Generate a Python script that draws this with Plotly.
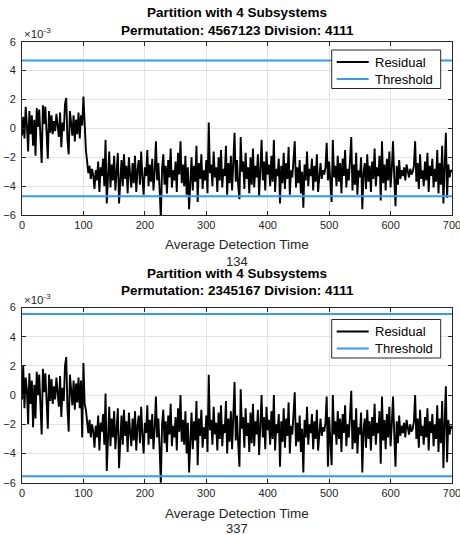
import plotly.graph_objects as go

# x positions (Average Detection Time samples)
time_start, time_stop, time_step = 0, 700, 2
x_vals = list(range(time_start, time_stop + 1, time_step))

# Residual, panel 1 (units of 1e-3)
residual_1 = [
    -0.5, 0.8, -0.7, 1.5, 0.2, -1.6, 1.2, -0.4, 0.9, -1.2,
    0.6, -1.9, 1.4, 0.1, 1.3, -0.6, -2.4, 1.6, 0.3, 1.5,
    -0.8, -2.1, 1.2, -0.3, 0.9, -0.4, 0.5, -0.2, 1.0, 0.2,
    -0.6, 1.1, -1.3, 0.4, -0.2, 1.7, 2.1, -0.8, -1.8, 1.2,
    0.3, -0.5, 0.9, -0.9, 0.6, -0.4, 1.1, -0.7, 0.9, 0.2,
    2.2, -0.4, -1.5, -2.3, -3.1, -2.6, -3.5, -2.8, -3.3, -4.2,
    -2.9, -3.6, -2.3, -4.4, -2.7, -3.3, -2.1, -4.0, -0.8, -5.2,
    -3.0, -1.6, -4.1, -2.5, -3.6, -1.9, -4.3, -2.8, -1.7, -5.2,
    -3.1, -2.2, -4.0, -1.8, -3.5, -2.6, -4.5, -2.0, -3.2, -4.1,
    -2.4, -3.8, -1.9, -4.4, -2.9, -2.2, -3.9, -1.6, -3.4, -4.6,
    -2.7, -3.3, -1.5, -4.0, -2.5, -3.7, -2.1, -4.3, -3.0, -0.9,
    -3.6, -2.4, -4.2, -6.2, -2.8, -1.8, -3.9, -2.6, -4.5, -2.2,
    -3.4, -1.4, -4.1, -2.9, -3.6, -2.3, -4.4, -1.7, -3.2, -0.9,
    -3.8, -2.5, -4.0, -1.9, -4.6, -2.7, -5.6, -3.3, -2.0, -4.3,
    -2.6, -3.7, -1.2, -5.1, -2.4, -3.5, -1.8, -4.2, -2.9, -3.6,
    -2.2, -4.5, 0.4, -3.1, -2.5, -4.0, -1.6, -3.4, -2.7, -4.4,
    -2.0, -3.6, -1.5, -4.1, -2.8, -3.3, -1.2, -4.6, -2.4, -3.8,
    -1.9, -4.3, -2.6, -0.3, -3.7, -2.2, -4.0, -4.9, -0.6, -3.0,
    -2.3, -4.2, -1.7, -3.5, -2.7, -4.5, -2.0, -3.9, -1.4, -4.1,
    -2.6, -3.4, -1.8, -4.7, -2.9, -0.8, -3.6, -2.3, -4.3, -1.6,
    -3.2, -2.5, -4.0, -1.9, -3.7, -0.8, -4.4, -2.8, -3.3, -2.1,
    -5.2, -2.6, -3.8, -1.7, -4.2, -2.4, -3.5, -1.3, -4.6, -2.9,
    -3.4, -1.9, -0.9, -4.1, -2.7, -3.8, -2.2, -4.5, -3.0, -5.5,
    -2.5, -3.6, -1.6, -4.0, -2.8, -3.3, -2.1, -4.3, -2.6, -3.7,
    -1.8, -4.4, -3.0, -2.4, -3.5, -2.9, -3.2, -2.7, -1.0, -3.6,
    -2.3, -4.2, -5.1, -0.8, -3.4, -2.6, -4.0, -1.9, -3.7, -2.4,
    -4.5, -2.1, -3.3, -1.5, -4.1, -2.8, -3.6, -2.2, -0.6, -4.3,
    -2.5, -3.9, -1.7, -4.6, -2.9, -3.4, -2.0, -5.6, -3.1, -2.4,
    -4.2, -1.8, -3.7, -2.6, -4.4, -2.3, -3.5, -1.4, -4.0, -2.7,
    -3.3, -1.9, -5.0, -0.9, -3.8, -2.5, -4.3, -2.1, -3.6, -1.6,
    -4.1, -2.8, -0.9, -3.4, -5.4, -2.6, -3.9, -2.2, -3.5, -2.9,
    -3.3, -2.7, -3.6, -2.5, -3.1, -3.4, -2.8, -3.2, -3.0, -2.6,
    -0.9, -3.7, -2.4, -4.2, -1.8, -3.5, -2.9, -4.0, -2.3, -3.6,
    -1.7, -4.4, -2.6, -3.3, -2.1, -4.1, -2.8, -3.7, -1.5, -4.5,
    -2.4, -3.9, -1.2, -5.2, -2.7, -0.3, -4.8, -2.5, -3.4, -2.9,
    -3.0,
]

# Residual, panel 2 (units of 1e-3)
residual_2 = [
    -0.3, 2.0, -0.9, 1.2, 0.4, -2.0, 1.5, -0.6, 1.0, -2.2,
    0.7, -1.6, 1.6, 0.0, 1.4, -0.8, -2.7, 1.8, 0.2, 1.5,
    -1.0, -2.3, 1.4, -0.4, 1.1, -0.6, 0.6, -0.3, 1.2, 0.1,
    -0.8, 1.3, -1.5, 0.5, -0.4, 2.0, 2.6, -0.9, -2.5, 1.4,
    0.4, -0.7, 1.0, -1.0, 0.8, -0.5, 1.2, -0.9, 1.0, -2.9,
    2.2, -0.6, -1.0, -1.9, -2.6, -1.7, -2.9, -2.0, -2.5, -3.6,
    -2.1, -2.9, -1.4, -3.8, -1.9, -2.5, -1.3, -3.4, 0.1, -5.2,
    -2.2, -0.8, -3.5, -1.6, -2.9, -1.1, -3.7, -2.0, -0.9, -5.0,
    -2.4, -1.4, -3.4, -1.0, -2.8, -1.8, -3.9, -1.2, -2.5, -3.5,
    -1.6, -3.1, -1.1, -3.8, -2.1, -1.4, -3.3, -0.8, -2.7, -4.0,
    -1.9, -2.6, -0.7, -3.4, -1.7, -3.0, -1.3, -3.7, -2.3, -0.1,
    -2.9, -1.6, -3.6, -6.1, -2.0, -1.0, -3.3, -1.8, -3.9, -1.4,
    -2.7, -0.6, -3.5, -2.1, -2.9, -1.5, -3.8, -0.9, -2.5, 0.0,
    -3.2, -1.7, -3.4, -1.1, -4.0, -1.9, -5.3, -2.6, -1.2, -3.7,
    -1.8, -3.1, -0.4, -4.8, -1.6, -2.8, -1.0, -3.6, -2.2, -3.0,
    -1.4, -3.9, 1.4, -2.4, -1.7, -3.4, -0.8, -2.7, -1.9, -3.8,
    -1.2, -3.0, -0.7, -3.5, -2.0, -2.6, -0.4, -4.0, -1.6, -3.2,
    -1.1, -3.7, -1.8, 0.9, -3.1, -1.4, -3.4, -4.9, 0.4, -2.3,
    -1.5, -3.6, -0.9, -2.8, -1.9, -3.9, -1.2, -3.3, -0.6, -3.5,
    -1.8, -2.7, -1.0, -4.1, -2.1, 0.0, -2.9, -1.5, -3.7, -0.8,
    -2.4, -1.7, -3.4, -1.1, -3.0, 0.0, -3.8, -2.0, -2.6, -1.3,
    -4.9, -1.8, -3.2, -0.9, -3.6, -1.6, -2.8, -0.5, -4.0, -2.1,
    -2.7, -1.1, 0.2, -3.5, -1.9, -3.2, -1.4, -3.9, -2.3, -5.3,
    -1.7, -2.9, -0.8, -3.4, -2.0, -2.6, -1.3, -3.7, -1.8, -3.0,
    -1.0, -3.8, -2.3, -1.6, -2.8, -2.2, -2.5, -1.9, -0.1, -4.9,
    -1.5, -3.6, -4.8, 0.0, -2.7, -1.8, -3.4, -1.1, -3.0, -1.6,
    -3.9, -1.3, -2.6, -0.7, -3.5, -2.0, -2.9, -1.4, 0.3, -3.7,
    -1.7, -3.3, -0.9, -4.0, -2.2, -2.7, -1.2, -5.3, -2.4, -1.6,
    -3.6, -1.0, -3.0, -1.8, -3.8, -1.5, -2.8, -0.6, -3.4, -1.9,
    -2.6, -1.1, -4.7, -0.1, -3.1, -1.7, -3.7, -1.3, -2.9, -0.8,
    -3.5, -2.0, -0.1, -2.7, -4.9, -1.8, -3.3, -1.4, -2.8, -2.1,
    -2.6, -1.9, -2.9, -1.7, -2.4, -2.7, -2.0, -2.5, -2.3, -1.8,
    0.0, -3.0, -1.6, -3.6, -1.0, -2.8, -2.1, -3.4, -1.5, -2.9,
    -0.9, -3.8, -1.8, -2.6, -1.3, -3.5, -2.0, -3.0, -0.7, -3.9,
    -1.6, -3.3, -0.4, -5.0, -1.9, 0.6, -4.6, -1.7, -2.7, -2.1,
    -2.3,
]

thresholds = [4.7, 5.55]
permutations = ["4567123", "2345167"]
divisions = ["4111", "4111"]
detection_times = ["134", "337"]
series_names = ["Residual", "Threshold"]
x_ticks = [0, 100, 200, 300, 400, 500, 600, 700]
y_ticks = [-6, -4, -2, 0, 2, 4, 6]

W, H = 460, 535
ML, MR = 22, 8
FONT = "Liberation Sans, Arial, Helvetica, sans-serif"
TXT = "#262626"
BLUE = "#3399ff"
RES_COLOR = "black"

def py(px):
    return 1 - px / H

def pxx(px):
    return (px - ML) / (W - ML - MR)

fig = go.Figure()
residuals = [residual_1, residual_2]
for i in range(2):
    xa = "x" if i == 0 else "x2"
    ya = "y" if i == 0 else "y2"
    t = thresholds[i]
    fig.add_trace(go.Scatter(x=x_vals, y=residuals[i], mode="lines",
                             line=dict(color=RES_COLOR, width=1.9),
                             name=series_names[0], xaxis=xa, yaxis=ya, showlegend=False))
    fig.add_trace(go.Scatter(x=[time_start, time_stop, None, time_start, time_stop],
                             y=[t, t, None, -t, -t], mode="lines",
                             line=dict(color=BLUE, width=2),
                             name=series_names[1], xaxis=xa, yaxis=ya, showlegend=False))

axis_common = dict(showline=True, linecolor=TXT, linewidth=1, mirror="ticks",
                   ticks="inside", ticklen=4, tickcolor=TXT, tickwidth=1,
                   showgrid=True, gridcolor="#e3e3e3", gridwidth=1, zeroline=False,
                   ticklabeloverflow="allow",
                   tickfont=dict(family=FONT, size=11, color=TXT))

panels = [(41.7, 215.0), (307.5, 482.7)]
lay = dict(width=W, height=H, margin=dict(l=ML, r=MR, t=0, b=0, autoexpand=False),
           paper_bgcolor="white", plot_bgcolor="white", showlegend=False)
for i, (top, bot) in enumerate(panels):
    sfx = "" if i == 0 else "2"
    lay["xaxis" + sfx] = dict(axis_common, range=[time_start, time_stop], tickvals=x_ticks,
                              anchor="y" + sfx, domain=[0, 1])
    lay["yaxis" + sfx] = dict(axis_common, range=[-6, 6], tickvals=y_ticks,
                              anchor="x" + sfx, domain=[py(bot), py(top)],
                              ticklabelstandoff=3)
fig.update_layout(**lay)

annos = []
shapes = []
title_y = [(13, 30), (273.5, 290)]
label_y = [(245, 261), (513, 528.5)]
exp_y = [33, 299]
legend_top = [50, 319.5]
LEG_L, LEG_R, LEG_H = 331.7, 440.7, 38.5
for i in range(2):
    annos.append(dict(text="<b>Partition with 4 Subsystems</b>", x=0.5, y=py(title_y[i][0])))
    annos.append(dict(text="<b>Permutation: %s Division: %s</b>" % (permutations[i], divisions[i]),
                      x=0.5, y=py(title_y[i][1])))
    annos.append(dict(text="Average Detection Time", x=0.5, y=py(label_y[i][0]),
                      font=dict(family=FONT, size=13.5, color=TXT)))
    annos.append(dict(text=detection_times[i], x=0.5, y=py(label_y[i][1]),
                      font=dict(family=FONT, size=13, color=TXT)))
    annos.append(dict(text="×10<sup>-3</sup>", x=0.0, xanchor="left", y=py(exp_y[i]),
                      font=dict(family=FONT, size=11.5, color=TXT)))
    # legend box
    lt = legend_top[i]
    shapes.append(dict(type="rect", xref="paper", yref="paper",
                       x0=pxx(LEG_L), x1=pxx(LEG_R), y0=py(lt + LEG_H), y1=py(lt),
                       line=dict(color=TXT, width=1), fillcolor="white", layer="above"))
    for k, (name, col) in enumerate(zip(series_names, [RES_COLOR, BLUE])):
        yy = lt + 12 + k * 17
        shapes.append(dict(type="line", xref="paper", yref="paper",
                           x0=pxx(LEG_L + 5), x1=pxx(LEG_L + 37), y0=py(yy), y1=py(yy),
                           line=dict(color=col, width=2), layer="above"))
        annos.append(dict(text=name, x=pxx(LEG_L + 41), xanchor="left", y=py(yy),
                          font=dict(family=FONT, size=13, color="black")))
for a in annos:
    a.setdefault("xanchor", "center")
    a.setdefault("font", dict(family=FONT, size=13.5, color="black"))
    a.update(xref="paper", yref="paper", yanchor="middle", showarrow=False)
fig.update_layout(annotations=annos, shapes=shapes)

fig.write_html("out.html")
